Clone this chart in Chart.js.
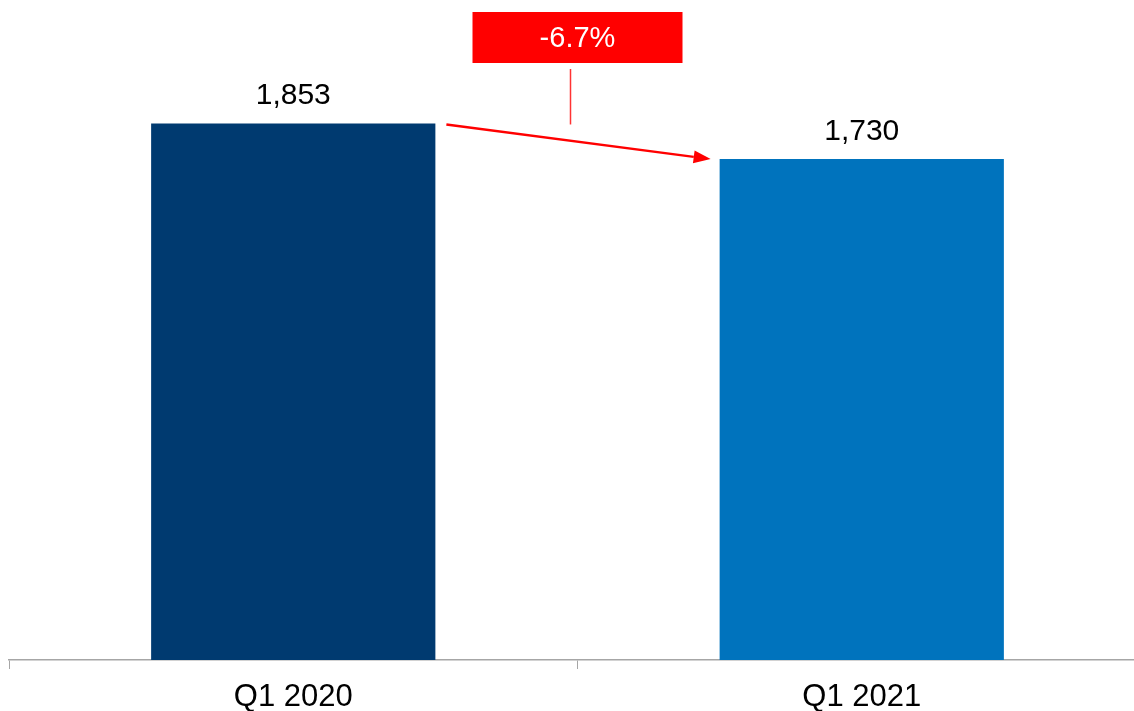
<!DOCTYPE html>
<html lang="en">
<head>
  <meta charset="UTF-8">
  <title>Q1 2020 vs Q1 2021</title>
  <style>
    html, body { margin: 0; padding: 0; background: #fff; overflow: hidden; }
    #wrap { position: relative; width: 1146px; height: 726px; }
  </style>
</head>
<body>
  <div id="wrap"><canvas id="chart"></canvas></div>

  <script src="https://cdn.jsdelivr.net/npm/chart.js"></script>
  <script>
    const categories = ['Q1 2020', 'Q1 2021'];
    const values = [1853, 1730];
    const barColors = ['#003A70', '#0073BD'];
    const changeLabel = '-6.7%';

    const FONT = '"Liberation Sans", Arial, sans-serif';

    // value labels above each bar
    const valueLabels = {
      id: 'valueLabels',
      afterDatasetsDraw(chart) {
        const ctx = chart.ctx;
        const meta = chart.getDatasetMeta(0);
        ctx.save();
        ctx.font = '30px ' + FONT;
        ctx.fillStyle = '#000';
        ctx.textAlign = 'center';
        ctx.textBaseline = 'alphabetic';
        meta.data.forEach((bar, i) => {
          ctx.fillText(values[i].toLocaleString('en-US'), bar.x, bar.y - 19);
        });
        ctx.restore();
      }
    };

    // red change box with arrow between the bars
    const changeArrow = {
      id: 'changeArrow',
      afterDatasetsDraw(chart) {
        const ctx = chart.ctx;
        const meta = chart.getDatasetMeta(0);
        const b1 = meta.data[0], b2 = meta.data[1];
        const mid = chart.scales.x.getPixelForValue(0.5);
        const boxW = 210, boxH = 51, boxTop = 12;
        ctx.save();
        ctx.fillStyle = '#FF0000';
        ctx.fillRect(mid - boxW / 2, boxTop, boxW, boxH);
        ctx.fillStyle = '#fff';
        ctx.font = '29px ' + FONT;
        ctx.textAlign = 'center';
        ctx.textBaseline = 'middle';
        ctx.fillText(changeLabel, mid, boxTop + boxH / 2 + 1);

        // connector
        ctx.strokeStyle = '#FF3333';
        ctx.lineWidth = 1.5;
        ctx.beginPath();
        ctx.moveTo(mid - 7, boxTop + boxH + 6);
        ctx.lineTo(mid - 7, b1.y + 1);
        ctx.stroke();

        // arrow
        const x1 = b1.x + b1.width / 2 + 11, y1 = b1.y + 1;
        const x2 = b2.x - b2.width / 2 - 9, y2 = b2.y;
        const ang = Math.atan2(y2 - y1, x2 - x1);
        const headL = 17, headW = 6.5;
        const bx = x2 - headL * Math.cos(ang), by = y2 - headL * Math.sin(ang);
        ctx.strokeStyle = '#FF0000';
        ctx.lineWidth = 2.5;
        ctx.beginPath();
        ctx.moveTo(x1, y1);
        ctx.lineTo(bx, by);
        ctx.stroke();
        ctx.fillStyle = '#FF0000';
        ctx.beginPath();
        ctx.moveTo(x2, y2);
        ctx.lineTo(bx + headW * Math.sin(ang), by - headW * Math.cos(ang));
        ctx.lineTo(bx - headW * Math.sin(ang), by + headW * Math.cos(ang));
        ctx.closePath();
        ctx.fill();
        ctx.restore();
      }
    };

    new Chart(document.getElementById('chart'), {
      type: 'bar',
      data: {
        labels: categories,
        datasets: [{
          data: values,
          backgroundColor: barColors,
          categoryPercentage: 1,
          barPercentage: 0.5
        }]
      },
      options: {
        responsive: true,
        maintainAspectRatio: false,
        animation: false,
        layout: { padding: { left: 9, right: 0, top: 23, bottom: 0 } },
        plugins: { legend: { display: false }, tooltip: { enabled: false } },
        scales: {
          x: {
            grid: {
              offset: true,
              drawOnChartArea: false,
              drawTicks: true,
              tickLength: 9,
              color: '#A6A6A6'
            },
            border: { display: true, color: '#A6A6A6', width: 1.5 },
            ticks: {
              color: '#000',
              padding: 13,
              font: { family: FONT, size: 31, lineHeight: 1 }
            }
          },
          y: {
            display: false,
            min: 0,
            max: 2200
          }
        }
      },
      plugins: [valueLabels, changeArrow]
    });
  </script>
</body>
</html>
